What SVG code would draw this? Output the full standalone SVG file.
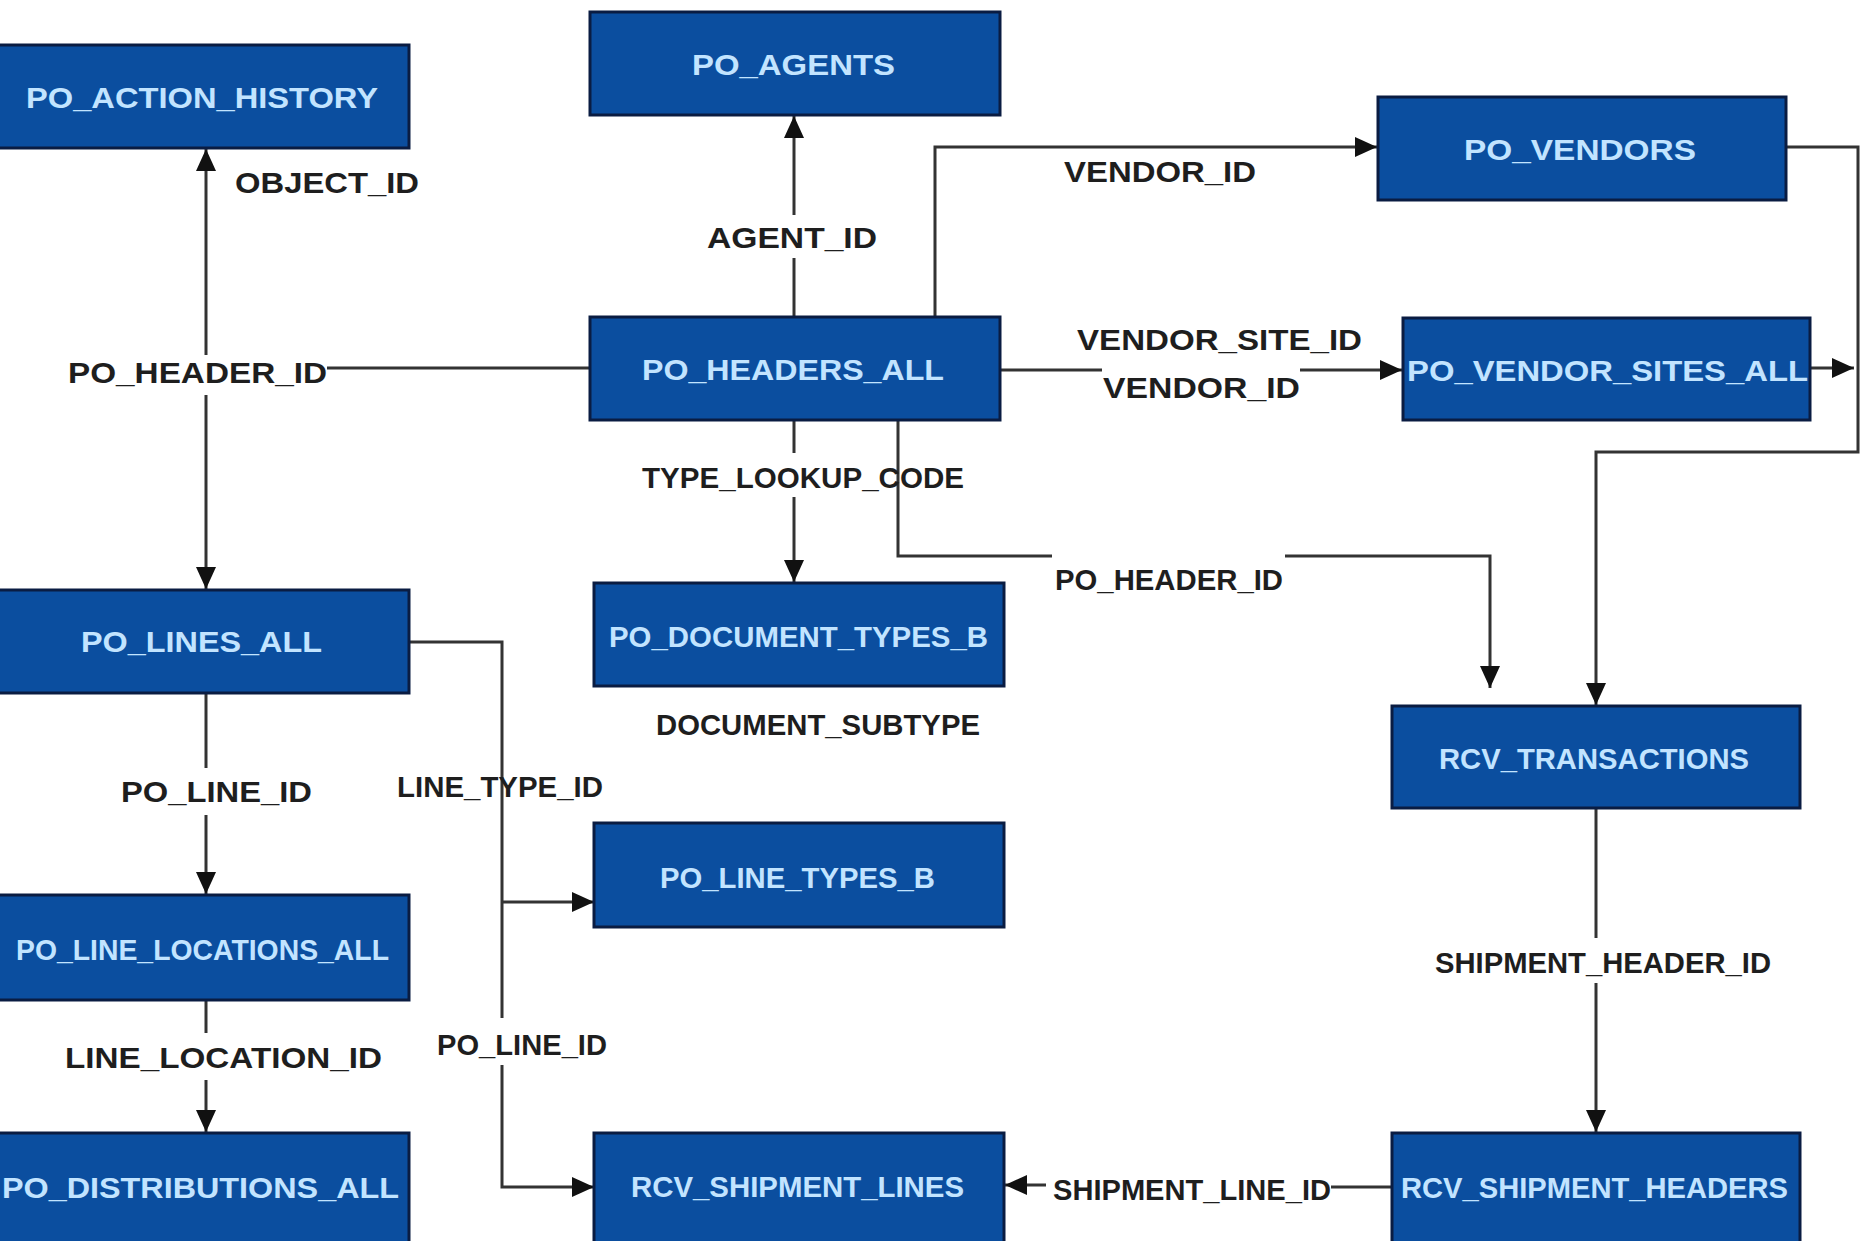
<svg xmlns="http://www.w3.org/2000/svg" width="1866" height="1241" viewBox="0 0 1866 1241">
<defs>
<style>
.node rect{fill:#0b4e9f;stroke:#0a1c42;stroke-width:3}
.node text{font-family:"Liberation Sans",Arial,sans-serif;font-weight:bold;fill:#c2e4ff;font-size:30px}
.lbl{font-family:"Liberation Sans",Arial,sans-serif;font-weight:bold;fill:#1e1e1e;font-size:30px}
.conn path{fill:none;stroke:#333;stroke-width:3}
.arr{marker-end:url(#ah)}
</style>
<marker id="ah" markerUnits="userSpaceOnUse" markerWidth="24" markerHeight="22" refX="22" refY="10" orient="auto">
<path d="M0,0 L22,10 L0,20 Z" fill="#111"/>
</marker>
</defs>
<rect width="1866" height="1241" fill="#ffffff"/>

<g id="connectors" class="conn">
<path d="M590,368 H327"/>
<path class="arr" d="M206,355 V149"/>
<path class="arr" d="M206,395 V589"/>
<path d="M794,317 V258"/>
<path class="arr" d="M794,215 V116"/>
<path class="arr" d="M935,317 V147 H1377"/>
<path d="M1000,370 H1102"/>
<path class="arr" d="M1300,370 H1402"/>
<path class="arr" d="M1786,147 H1858 V452 H1596 V705"/>
<path class="arr" d="M1810,368 H1854"/>
<path d="M794,420 V453"/>
<path class="arr" d="M794,497 V582"/>
<path d="M898,420 V556 H1052"/>
<path class="arr" d="M1285,556 H1490 V688"/>
<path d="M206,693 V768"/>
<path class="arr" d="M206,815 V894"/>
<path d="M206,1000 V1033"/>
<path class="arr" d="M206,1080 V1132"/>
<path d="M409,642 H502 V1018"/>
<path class="arr" d="M502,1065 V1187 H594"/>
<path class="arr" d="M502,902 H594"/>
<path d="M1596,808 V938"/>
<path class="arr" d="M1596,983 V1132"/>
<path d="M1392,1187 H1331"/>
<path class="arr" d="M1046,1185 H1005"/>
<text class="lbl" x="235" y="193" textLength="184" lengthAdjust="spacingAndGlyphs">OBJECT_ID</text>
<text class="lbl" x="68" y="383" textLength="259" lengthAdjust="spacingAndGlyphs">PO_HEADER_ID</text>
<text class="lbl" x="707" y="248" textLength="170" lengthAdjust="spacingAndGlyphs">AGENT_ID</text>
<text class="lbl" x="1064" y="182" textLength="192" lengthAdjust="spacingAndGlyphs">VENDOR_ID</text>
<text class="lbl" x="1077" y="350" textLength="285" lengthAdjust="spacingAndGlyphs">VENDOR_SITE_ID</text>
<text class="lbl" x="1103" y="398" textLength="197" lengthAdjust="spacingAndGlyphs">VENDOR_ID</text>
<text class="lbl" x="642" y="488" font-size="28" textLength="322" lengthAdjust="spacingAndGlyphs">TYPE_LOOKUP_CODE</text>
<text class="lbl" x="1055" y="590" font-size="27" textLength="228" lengthAdjust="spacingAndGlyphs">PO_HEADER_ID</text>
<text class="lbl" x="656" y="735" font-size="27" textLength="324" lengthAdjust="spacingAndGlyphs">DOCUMENT_SUBTYPE</text>
<text class="lbl" x="121" y="802" textLength="191" lengthAdjust="spacingAndGlyphs">PO_LINE_ID</text>
<text class="lbl" x="397" y="797" font-size="27" textLength="206" lengthAdjust="spacingAndGlyphs">LINE_TYPE_ID</text>
<text class="lbl" x="65" y="1068" textLength="317" lengthAdjust="spacingAndGlyphs">LINE_LOCATION_ID</text>
<text class="lbl" x="437" y="1055" font-size="27" textLength="170" lengthAdjust="spacingAndGlyphs">PO_LINE_ID</text>
<text class="lbl" x="1435" y="973" font-size="28" textLength="336" lengthAdjust="spacingAndGlyphs">SHIPMENT_HEADER_ID</text>
<text class="lbl" x="1053" y="1200" font-size="26" textLength="278" lengthAdjust="spacingAndGlyphs">SHIPMENT_LINE_ID</text>
</g>

<g id="n-po-action-history" class="node">
<rect x="-3" y="45" width="412" height="103"/>
<text x="26" y="108" textLength="352" lengthAdjust="spacingAndGlyphs">PO_ACTION_HISTORY</text>
</g>
<g id="n-po-agents" class="node">
<rect x="590" y="12" width="410" height="103"/>
<text x="692" y="75" textLength="203" lengthAdjust="spacingAndGlyphs">PO_AGENTS</text>
</g>
<g id="n-po-vendors" class="node">
<rect x="1378" y="97" width="408" height="103"/>
<text x="1464" y="160" textLength="232" lengthAdjust="spacingAndGlyphs">PO_VENDORS</text>
</g>
<g id="n-po-headers-all" class="node">
<rect x="590" y="317" width="410" height="103"/>
<text x="642" y="380" textLength="302" lengthAdjust="spacingAndGlyphs">PO_HEADERS_ALL</text>
</g>
<g id="n-po-vendor-sites-all" class="node">
<rect x="1403" y="318" width="407" height="102"/>
<text x="1407" y="381" font-size="34" textLength="401" lengthAdjust="spacingAndGlyphs">PO_VENDOR_SITES_ALL</text>
</g>
<g id="n-po-document-types-b" class="node">
<rect x="594" y="583" width="410" height="103"/>
<text x="609" y="647" font-size="24" textLength="379" lengthAdjust="spacingAndGlyphs">PO_DOCUMENT_TYPES_B</text>
</g>
<g id="n-po-lines-all" class="node">
<rect x="-3" y="590" width="412" height="103"/>
<text x="81" y="652" textLength="241" lengthAdjust="spacingAndGlyphs">PO_LINES_ALL</text>
</g>
<g id="n-rcv-transactions" class="node">
<rect x="1392" y="706" width="408" height="102"/>
<text x="1439" y="769" font-size="29" textLength="310" lengthAdjust="spacingAndGlyphs">RCV_TRANSACTIONS</text>
</g>
<g id="n-po-line-types-b" class="node">
<rect x="594" y="823" width="410" height="104"/>
<text x="660" y="888" font-size="29" textLength="275" lengthAdjust="spacingAndGlyphs">PO_LINE_TYPES_B</text>
</g>
<g id="n-po-line-locations-all" class="node">
<rect x="-3" y="895" width="412" height="105"/>
<text x="16" y="960" textLength="373" lengthAdjust="spacingAndGlyphs">PO_LINE_LOCATIONS_ALL</text>
</g>
<g id="n-po-distributions-all" class="node">
<rect x="-3" y="1133" width="412" height="112"/>
<text x="2" y="1198" font-size="34" textLength="397" lengthAdjust="spacingAndGlyphs">PO_DISTRIBUTIONS_ALL</text>
</g>
<g id="n-rcv-shipment-lines" class="node">
<rect x="594" y="1133" width="410" height="112"/>
<text x="631" y="1197" font-size="28" textLength="333" lengthAdjust="spacingAndGlyphs">RCV_SHIPMENT_LINES</text>
</g>
<g id="n-rcv-shipment-headers" class="node">
<rect x="1392" y="1133" width="408" height="112"/>
<text x="1401" y="1198" font-size="29" textLength="387" lengthAdjust="spacingAndGlyphs">RCV_SHIPMENT_HEADERS</text>
</g>
</svg>
